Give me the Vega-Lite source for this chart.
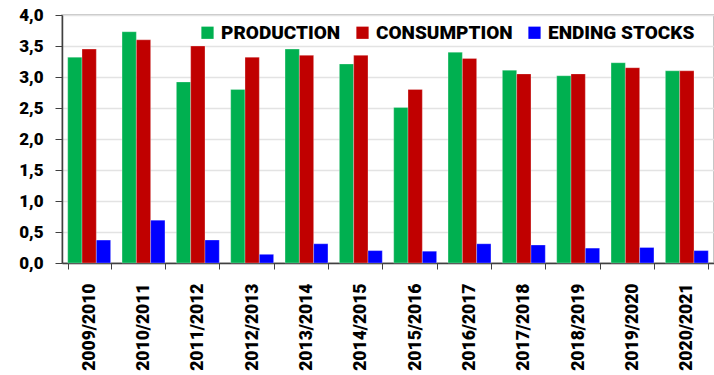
{
  "$schema": "https://vega.github.io/schema/vega-lite/v6.json",
  "autosize": {"type": "none"},
  "padding": {"left": 62, "top": 15, "right": 0, "bottom": 112},
  "width": 652,
  "height": 248,
  "background": "white",
  "config": {
    "font": "Roboto",
    "view": {"stroke": "#b4b4b4", "strokeWidth": 1.5}
  },
  "data": {
    "values": [
      {"year": "2009/2010", "series": "PRODUCTION", "value": 3.32},
      {"year": "2009/2010", "series": "CONSUMPTION", "value": 3.45},
      {"year": "2009/2010", "series": "ENDING STOCKS", "value": 0.37},
      {"year": "2010/2011", "series": "PRODUCTION", "value": 3.73},
      {"year": "2010/2011", "series": "CONSUMPTION", "value": 3.60},
      {"year": "2010/2011", "series": "ENDING STOCKS", "value": 0.69},
      {"year": "2011/2012", "series": "PRODUCTION", "value": 2.92},
      {"year": "2011/2012", "series": "CONSUMPTION", "value": 3.50},
      {"year": "2011/2012", "series": "ENDING STOCKS", "value": 0.37},
      {"year": "2012/2013", "series": "PRODUCTION", "value": 2.80},
      {"year": "2012/2013", "series": "CONSUMPTION", "value": 3.32},
      {"year": "2012/2013", "series": "ENDING STOCKS", "value": 0.14},
      {"year": "2013/2014", "series": "PRODUCTION", "value": 3.45},
      {"year": "2013/2014", "series": "CONSUMPTION", "value": 3.35},
      {"year": "2013/2014", "series": "ENDING STOCKS", "value": 0.31},
      {"year": "2014/2015", "series": "PRODUCTION", "value": 3.21},
      {"year": "2014/2015", "series": "CONSUMPTION", "value": 3.35},
      {"year": "2014/2015", "series": "ENDING STOCKS", "value": 0.20},
      {"year": "2015/2016", "series": "PRODUCTION", "value": 2.51},
      {"year": "2015/2016", "series": "CONSUMPTION", "value": 2.80},
      {"year": "2015/2016", "series": "ENDING STOCKS", "value": 0.19},
      {"year": "2016/2017", "series": "PRODUCTION", "value": 3.40},
      {"year": "2016/2017", "series": "CONSUMPTION", "value": 3.30},
      {"year": "2016/2017", "series": "ENDING STOCKS", "value": 0.31},
      {"year": "2017/2018", "series": "PRODUCTION", "value": 3.11},
      {"year": "2017/2018", "series": "CONSUMPTION", "value": 3.05},
      {"year": "2017/2018", "series": "ENDING STOCKS", "value": 0.29},
      {"year": "2018/2019", "series": "PRODUCTION", "value": 3.02},
      {"year": "2018/2019", "series": "CONSUMPTION", "value": 3.05},
      {"year": "2018/2019", "series": "ENDING STOCKS", "value": 0.24},
      {"year": "2019/2020", "series": "PRODUCTION", "value": 3.23},
      {"year": "2019/2020", "series": "CONSUMPTION", "value": 3.15},
      {"year": "2019/2020", "series": "ENDING STOCKS", "value": 0.25},
      {"year": "2020/2021", "series": "PRODUCTION", "value": 3.10},
      {"year": "2020/2021", "series": "CONSUMPTION", "value": 3.10},
      {"year": "2020/2021", "series": "ENDING STOCKS", "value": 0.20}
    ]
  },
  "mark": {"type": "bar", "stroke": "#ffffff", "strokeOpacity": 0.35, "strokeWidth": 0.8},
  "encoding": {
    "x": {
      "field": "year",
      "type": "nominal",
      "sort": null,
      "title": null,
      "scale": {"paddingInner": 0.21, "paddingOuter": 0.105},
      "axis": {
        "labelAngle": -90,
        "labelFontSize": 17.5,
        "labelFontWeight": 900,
        "labelColor": "#000000",
        "labelPadding": 14,
        "tickBand": "extent",
        "tickSize": 6,
        "tickColor": "#404040",
        "domainColor": "#404040",
        "domainWidth": 1.5,
        "grid": false
      }
    },
    "xOffset": {
      "field": "series",
      "type": "nominal",
      "sort": ["PRODUCTION", "CONSUMPTION", "ENDING STOCKS"],
      "scale": {"paddingInner": 0, "paddingOuter": 0}
    },
    "y": {
      "field": "value",
      "type": "quantitative",
      "title": null,
      "scale": {"domain": [0, 4], "nice": false},
      "axis": {
        "values": [0, 0.5, 1, 1.5, 2, 2.5, 3, 3.5, 4],
        "labelExpr": "replace(format(datum.value, '.1f'), '.', ',')",
        "labelFontSize": 17,
        "labelFontWeight": 900,
        "labelColor": "#000000",
        "labelPadding": 12,
        "tickSize": 7,
        "tickColor": "#404040",
        "domainColor": "#404040",
        "domainWidth": 1.5,
        "gridColor": "#e3e3e3",
        "gridWidth": 1.5
      }
    },
    "color": {
      "field": "series",
      "type": "nominal",
      "sort": ["PRODUCTION", "CONSUMPTION", "ENDING STOCKS"],
      "scale": {
        "domain": ["PRODUCTION", "CONSUMPTION", "ENDING STOCKS"],
        "range": ["#00b050", "#c00000", "#0000ff"]
      },
      "legend": {
        "title": null,
        "orient": "none",
        "legendX": 136,
        "legendY": 8,
        "direction": "horizontal",
        "symbolType": "square",
        "symbolSize": 150,
        "symbolStrokeWidth": 0,
        "labelFontSize": 19,
        "labelFontWeight": 900,
        "labelColor": "#000000",
        "labelLimit": 300,
        "labelOffset": 4,
        "columnPadding": 12
      }
    }
  }
}
